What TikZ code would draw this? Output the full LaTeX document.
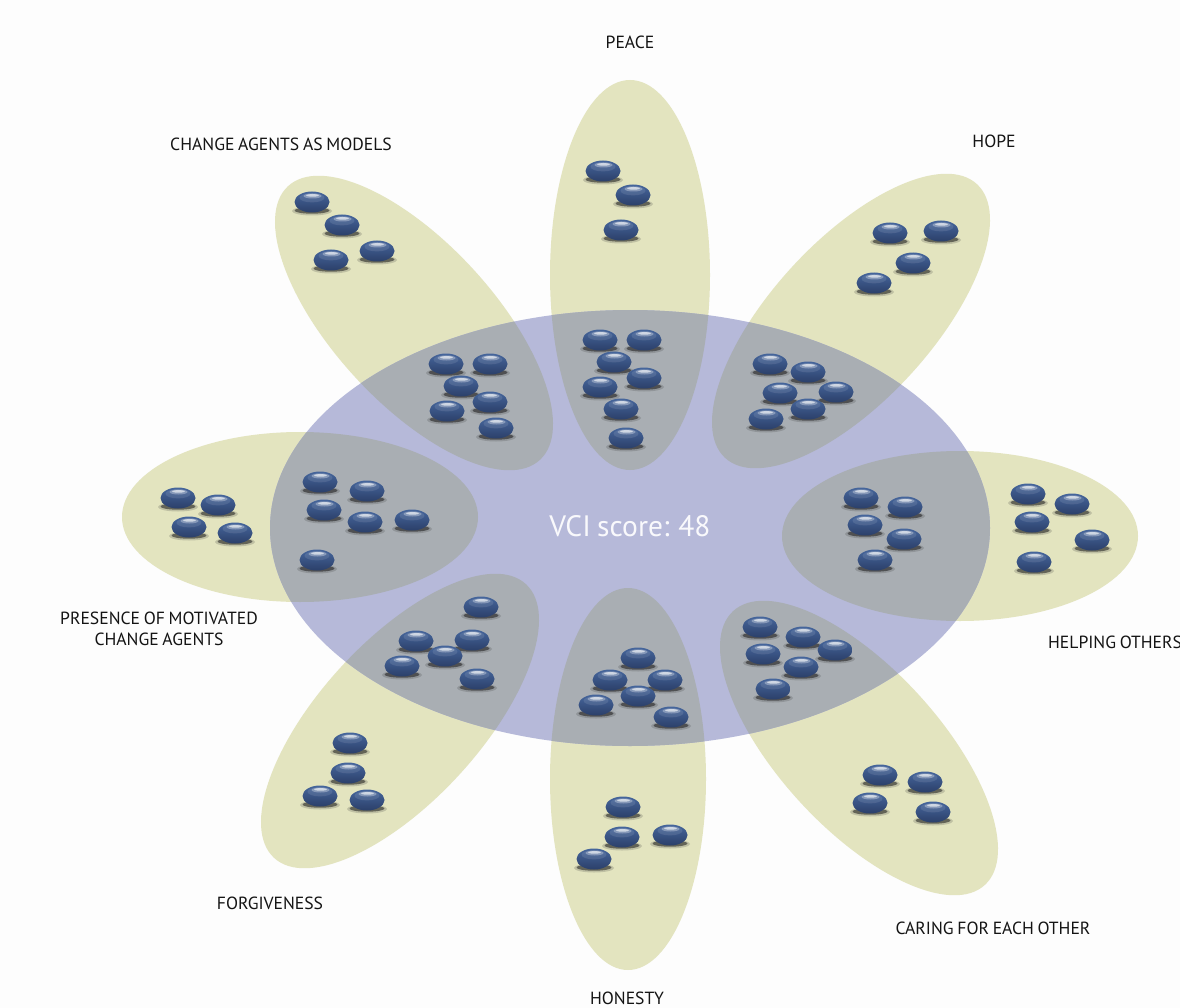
\documentclass[tikz,border=0pt]{standalone}
\usepackage{fontspec}
\setmainfont{PT Sans}[WordSpace=0.8]
\definecolor{pagebg}{HTML}{FDFDFD}
\definecolor{petalc}{HTML}{E3E4BF}
\definecolor{corec}{RGB}{182,185,217}
\definecolor{overlapc}{RGB}{169,174,179}
\definecolor{pebtop}{HTML}{46669C}
\definecolor{pebmid}{HTML}{5573A8}
\definecolor{pebbot}{HTML}{2B3F69}
\newcommand{\petalset}[1]{%
  \fill[#1] (630,275) ellipse [x radius=80,y radius=195];
  \fill[#1] (628,779) ellipse [x radius=78,y radius=191];
  \fill[#1] (300,517) ellipse [x radius=178,y radius=85];
  \fill[#1] (960,536) ellipse [x radius=178,y radius=85];
  \fill[#1,rotate around={-47.4:(414,323)}] (414,323) ellipse [x radius=186,y radius=80];
  \fill[#1,rotate around={47.4:(851,321)}] (851,321) ellipse [x radius=186,y radius=80];
  \fill[#1,rotate around={47.4:(400,721)}] (400,721) ellipse [x radius=186,y radius=80];
  \fill[#1,rotate around={-47.4:(859,748)}] (859,748) ellipse [x radius=186,y radius=80];
}
\tikzset{
  x=1pt,y=-1pt,
  petal/.style={fill=petalc,draw=none},
  overlap/.style={fill=overlapc,draw=none},
  core/.style={fill=corec,draw=none},
  lab/.style={font=\fontsize{17.6}{21}\selectfont,text=black!92,align=center,inner sep=0pt},
  pebble/.pic={
    \fill[black!80,opacity=.20] (0,9) ellipse [x radius=20,y radius=4.5];
    \fill[black!90,opacity=.55] (0,8.5) ellipse [x radius=17.5,y radius=3.2];
    \shade[top color=pebtop,middle color=pebmid,bottom color=pebbot] (0,0) ellipse [x radius=17.5,y radius=10.5];
    \fill[white,opacity=.10] (0,-4.2) ellipse [x radius=12.5,y radius=4.6];
    \fill[white,opacity=.30] (0.5,-6) ellipse [x radius=9,y radius=2.5];
    \fill[white,opacity=.60] (0.5,-6.6) ellipse [x radius=6.5,y radius=1.3];
  }
}
\begin{document}
\begin{tikzpicture}
\useasboundingbox (0,0) rectangle (1180,1008);
\fill[pagebg] (0,0) rectangle (1180,1008);
% petals
\petalset{petal}
% core
\fill[core] (630,528) ellipse [x radius=360,y radius=218];
\begin{scope}
\clip (630,528) ellipse [x radius=360,y radius=218];
\petalset{overlap}
\end{scope}
% pebbles
\foreach \px/\py in {603/171,633/195,621/230,
  600/340,644/340,614/362,644/378,600/387,621/409,626/438,
  890/233,941/231,913/263,874/283,
  770/364,808/372,780/393,836/392,808/409,766/419,
  312/202,342/225,377/251,331/260,
  446/364,490/364,461/386,490/402,447/411,496/428,
  178/498,218/505,189/527,235/533,
  320/482,367/491,324/510,365/522,412/520,317/560,
  1028/494,1072/504,1032/522,1092/540,1034/562,
  861/498,905/507,865/525,904/539,875/560,
  350/743,348/773,320/796,367/800,
  481/607,416/641,472/640,445/656,402/666,477/679,
  623/807,622/837,670/835,594/859,
  638/658,610/680,665/680,638/696,596/705,671/717,
  880/775,925/782,870/803,933/812,
  760/627,803/637,835/650,763/654,801/667,773/689}
  \pic at (\px,\py) {pebble};
% labels
\node[lab] (peace) at (630,42) {PEACE};
\node[lab] (hope) at (994,141) {HOPE};
\node[lab] (models) at (281,144) {CHANGE AGENTS AS MODELS};
\node[lab] (motivated) at (159,629) {PRESENCE OF MOTIVATED\\CHANGE AGENTS};
\node[lab] (helping) at (1115,642) {HELPING OTHERS};
\node[lab] (forgiveness) at (270,903) {FORGIVENESS};
\node[lab] (caring) at (993,928) {CARING FOR EACH OTHER};
\node[lab] (honesty) at (627,998) {HONESTY};
\node[font=\fontsize{29.5}{34}\selectfont,text=white!92!corec,inner sep=0pt] (score) at (630,526) {VCI score: 48};
\end{tikzpicture}
\end{document}
